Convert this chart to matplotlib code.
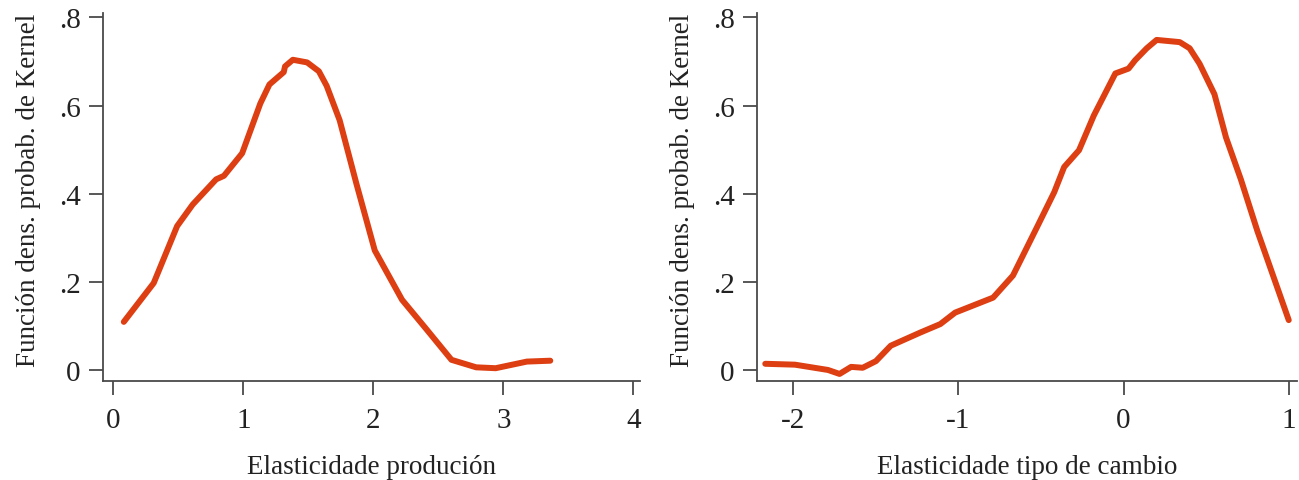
import matplotlib
matplotlib.use("Agg")
import matplotlib.pyplot as plt

plt.rcParams['font.family'] = ['Liberation Serif', 'DejaVu Serif']
plt.rcParams['axes.unicode_minus'] = False

# Elasticidade produción
prod_x = [0.08, 0.31, 0.49, 0.61, 0.79, 0.85, 0.99, 1.13, 1.20, 1.31, 1.32, 1.38,
          1.49, 1.58, 1.64, 1.74, 1.87, 2.01, 2.22, 2.40, 2.60, 2.79, 2.94, 3.18, 3.36]
prod_y = [0.110, 0.198, 0.327, 0.376, 0.433, 0.441, 0.492, 0.605, 0.648, 0.676, 0.689, 0.704,
          0.698, 0.678, 0.645, 0.567, 0.422, 0.272, 0.160, 0.096, 0.024, 0.007, 0.005, 0.020, 0.022]

# Elasticidade tipo de cambio
camb_x = [-2.17, -1.99, -1.79, -1.72, -1.65, -1.58, -1.50, -1.41, -1.23, -1.11, -1.02,
          -0.79, -0.67, -0.52, -0.42, -0.36, -0.27, -0.18, -0.05, 0.03, 0.07, 0.14, 0.20,
          0.34, 0.40, 0.46, 0.55, 0.62, 0.71, 0.81, 1.00]
camb_y = [0.015, 0.013, 0.001, -0.008, 0.008, 0.006, 0.021, 0.056, 0.086, 0.105, 0.131,
          0.165, 0.215, 0.328, 0.404, 0.461, 0.499, 0.578, 0.673, 0.684, 0.703, 0.730, 0.749,
          0.744, 0.730, 0.695, 0.626, 0.528, 0.433, 0.316, 0.114]

yticks = [0, 0.2, 0.4, 0.6, 0.8]
ytick_labels = ['0', '.2', '.4', '.6', '.8']

line_color = '#DD3E12'
spine_color = '#4a4a4a'

fig = plt.figure(figsize=(12.99, 4.81), dpi=100)
ax1 = fig.add_axes([103/1299, 1 - 382/481, (640 - 103)/1299, (382 - 14)/481])
ax2 = fig.add_axes([757/1299, 1 - 382/481, (1297 - 757)/1299, (382 - 14)/481])


def estilo(ax, xlabel):
    for s in ['top', 'right']:
        ax.spines[s].set_visible(False)
    for s in ['left', 'bottom']:
        ax.spines[s].set_color(spine_color)
        ax.spines[s].set_linewidth(1.3)
    ax.set_yticks(yticks)
    ax.set_yticklabels(ytick_labels)
    ax.tick_params(axis='both', direction='out', length=10, width=1.3,
                   color=spine_color, labelsize=21, labelcolor='#222222')
    ax.tick_params(axis='x', pad=9)
    ax.tick_params(axis='y', pad=6)
    ax.set_ylabel('Función dens. probab. de Kernel', fontsize=19.5, color='#222222')
    ax.yaxis.set_label_coords(-62/540, 0.52)
    ax.set_xlabel(xlabel, fontsize=19.5, color='#222222', labelpad=15)


ax1.plot(prod_x, prod_y, color=line_color, lw=4.3, solid_capstyle='round', solid_joinstyle='round')
ax1.set_xlim(-0.08, 4.05)
ax1.set_ylim(-0.024, 0.81)
ax1.set_xticks([0, 1, 2, 3, 4])
estilo(ax1, 'Elasticidade produción')

ax2.plot(camb_x, camb_y, color=line_color, lw=4.3, solid_capstyle='round', solid_joinstyle='round')
ax2.set_xlim(-2.22, 1.05)
ax2.set_ylim(-0.024, 0.81)
ax2.set_xticks([-2, -1, 0, 1])
estilo(ax2, 'Elasticidade tipo de cambio')

fig.savefig('out.png', dpi=100)
